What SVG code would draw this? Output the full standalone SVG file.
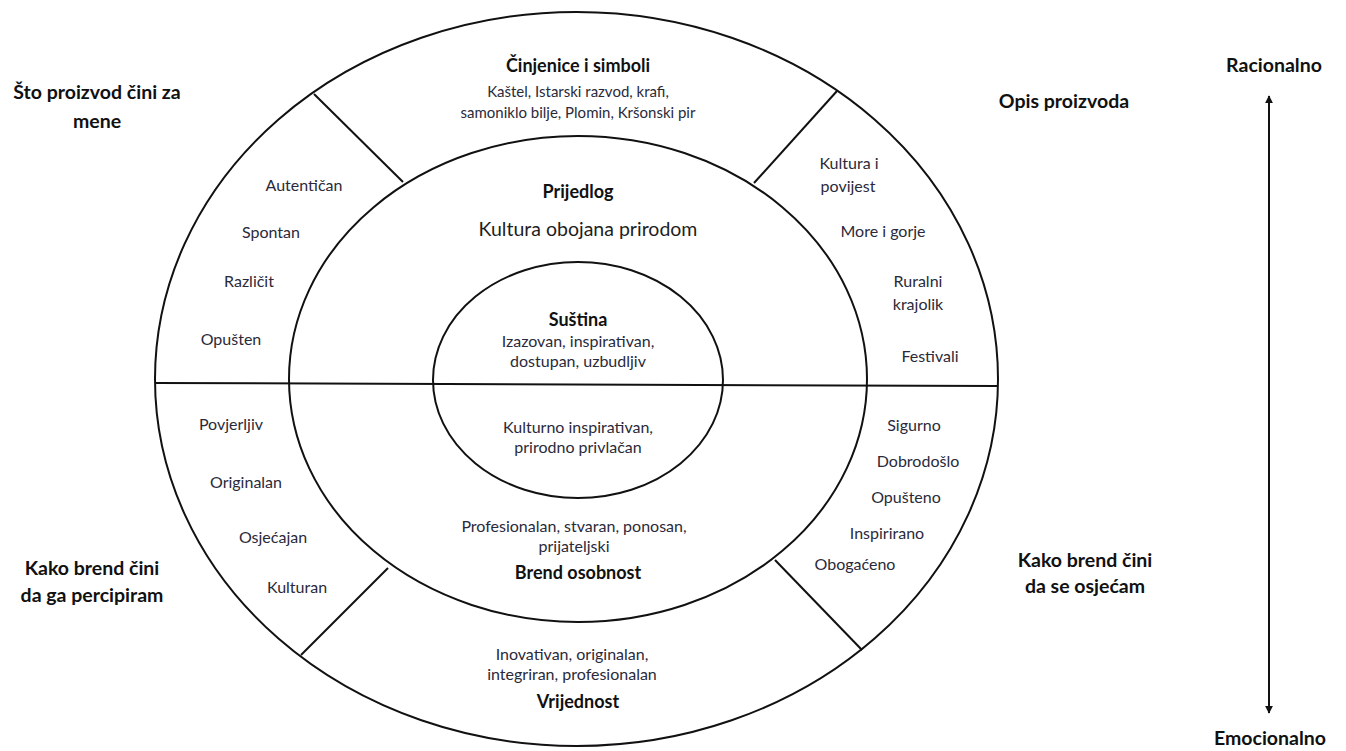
<svg xmlns="http://www.w3.org/2000/svg" width="1346" height="751" viewBox="0 0 1346 751">
<style>
text{font-family:Lato,"Liberation Sans",sans-serif;text-anchor:middle;fill:#1e1e1e}
.h{font-weight:bold;font-size:18px;fill:#111}
.o{font-weight:bold;font-size:19.5px;fill:#111}
.r{font-size:16px;fill:#2a2a3a}
.d{font-size:16px;fill:#2a2a3a}
.s{font-size:15px;fill:#2a2a3a}
.ring{fill:none;stroke:#111;stroke-width:2}
.ln{stroke:#111;stroke-width:2;fill:none}
</style>
<defs>
<marker id="ah" viewBox="0 0 10 10" refX="9" refY="5" markerWidth="8" markerHeight="10" markerUnits="userSpaceOnUse" orient="auto-start-reverse">
<path d="M0,0 L10,5 L0,10 z" fill="#111"/>
</marker>
</defs>
<rect width="1346" height="751" fill="#fff"/>
<g id="rings">
<ellipse id="outer" class="ring" cx="576.5" cy="379" rx="421.5" ry="367"/>
<ellipse id="middle" class="ring" cx="578" cy="379" rx="289" ry="243"/>
<ellipse id="inner" class="ring" cx="578" cy="380" rx="145" ry="118"/>
</g>
<g id="connectors">
<line class="ln" x1="155" y1="383" x2="998" y2="386"/>
<line class="ln" x1="314" y1="94" x2="403" y2="182"/>
<line class="ln" x1="837" y1="91" x2="754" y2="183"/>
<line class="ln" x1="388" y1="568" x2="301" y2="655"/>
<line class="ln" x1="775" y1="560" x2="862" y2="650"/>
<line class="ln" x1="1269" y1="96" x2="1269" y2="713" marker-start="url(#ah)" marker-end="url(#ah)"/>
</g>
<g id="cinjenice">
<text class="h" x="578" y="72">Činjenice i simboli</text>
<text class="s" x="578" y="97">Kaštel, Istarski razvod, krafi,</text>
<text class="s" x="578" y="118">samoniklo bilje, Plomin, Kršonski pir</text>
</g>
<g id="prijedlog">
<text class="h" x="578" y="198">Prijedlog</text>
<text x="588" y="236" style="font-size:19.5px">Kultura obojana prirodom</text>
</g>
<g id="sustina">
<text class="h" x="578" y="326">Suština</text>
<text class="d" x="578" y="347">Izazovan, inspirativan,</text>
<text class="d" x="578" y="367">dostupan, uzbudljiv</text>
</g>
<g id="inner-lower">
<text class="d" x="578" y="433">Kulturno inspirativan,</text>
<text class="d" x="578" y="453">prirodno privlačan</text>
</g>
<g id="brend-osobnost">
<text class="d" x="574" y="532">Profesionalan, stvaran, ponosan,</text>
<text class="d" x="574" y="552">prijateljski</text>
<text class="h" x="578" y="579">Brend osobnost</text>
</g>
<g id="vrijednost">
<text class="d" x="572" y="660">Inovativan, originalan,</text>
<text class="d" x="572" y="680">integriran, profesionalan</text>
<text class="h" x="578" y="708">Vrijednost</text>
</g>
<g id="left-upper">
<text class="r" x="304" y="191">Autentičan</text>
<text class="r" x="271" y="238">Spontan</text>
<text class="r" x="249" y="287">Različit</text>
<text class="r" x="231" y="345">Opušten</text>
</g>
<g id="left-lower">
<text class="r" x="231" y="430">Povjerljiv</text>
<text class="r" x="246" y="488">Originalan</text>
<text class="r" x="273" y="543">Osjećajan</text>
<text class="r" x="297" y="593">Kulturan</text>
</g>
<g id="right-upper">
<text class="r" x="849" y="169">Kultura i</text>
<text class="r" x="848" y="192">povijest</text>
<text class="r" x="883" y="237">More i gorje</text>
<text class="r" x="918" y="287">Ruralni</text>
<text class="r" x="918" y="310">krajolik</text>
<text class="r" x="930" y="362">Festivali</text>
</g>
<g id="right-lower">
<text class="r" x="914" y="431">Sigurno</text>
<text class="r" x="918" y="467">Dobrodošlo</text>
<text class="r" x="906" y="503">Opušteno</text>
<text class="r" x="887" y="539">Inspirirano</text>
<text class="r" x="855" y="570">Obogaćeno</text>
</g>
<g id="label-sto">
<text class="o" x="97" y="99">Što proizvod čini za</text>
<text class="o" x="97" y="128">mene</text>
</g>
<g id="label-opis">
<text class="o" x="1064" y="108">Opis proizvoda</text>
</g>
<g id="label-percipiram">
<text class="o" x="92" y="575">Kako brend čini</text>
<text class="o" x="92" y="602">da ga percipiram</text>
</g>
<g id="label-osjecam">
<text class="o" x="1085" y="567">Kako brend čini</text>
<text class="o" x="1085" y="593">da se osjećam</text>
</g>
<g id="label-racionalno">
<text class="o" x="1274" y="72">Racionalno</text>
</g>
<g id="label-emocionalno">
<text class="o" x="1270" y="745">Emocionalno</text>
</g>
</svg>
